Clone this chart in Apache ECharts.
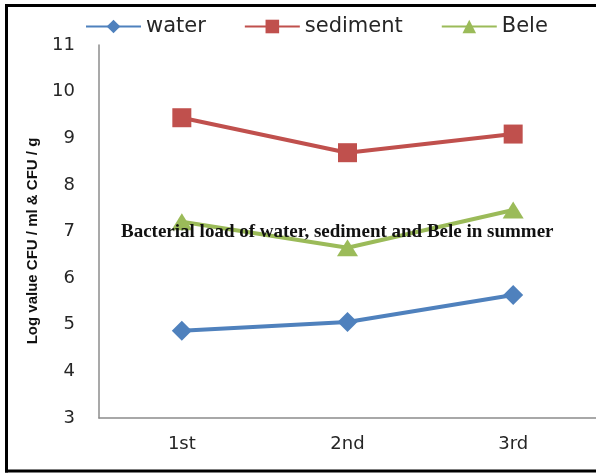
<!DOCTYPE html>
<html>
<head>
<meta charset="utf-8">
<script src="https://cdn.jsdelivr.net/npm/echarts@6/dist/echarts.min.js"></script>
<style>
  html, body { margin: 0; padding: 0; background: #fff; overflow: hidden; }
  #chart { width: 596px; height: 475px; }
</style>
</head>
<body>
<div id="chart"></div>
<script>
const categories = ['1st', '2nd', '3rd'];
const waterValues = [4.87, 5.06, 5.64];
const sedimentValues = [9.44, 8.69, 9.09];
const beleValues = [7.21, 6.65, 7.46];
const seriesNames = ['water', 'sediment', 'Bele'];
const yTicks = { min: 3, max: 11, interval: 1 };
const titleText = 'Bacterial load of water, sediment and Bele in summer';
const yAxisName = 'Log value CFU / ml & CFU / g';

const chart = echarts.init(document.getElementById('chart'), null, { renderer: 'canvas' });

const option = {
  animation: false,
  backgroundColor: '#ffffff',
  title: {
    text: titleText,
    left: 121,
    top: 223,
    padding: 0,
    textStyle: {
      fontFamily: 'Liberation Serif',
      fontWeight: 'bold',
      fontSize: 19,
      color: '#111111'
    }
  },
  legend: {
    left: 85,
    top: 16,
    itemWidth: 55,
    itemHeight: 17,
    itemGap: 38,
    padding: 0,
    data: seriesNames,
    textStyle: {
      fontFamily: 'DejaVu Sans',
      fontSize: 21,
      color: '#262626'
    }
  },
  grid: {
    left: 99,
    top: 45,
    width: 506,
    height: 373,
    containLabel: false
  },
  xAxis: {
    type: 'category',
    data: categories,
    boundaryGap: true,
    axisLine: { show: true, lineStyle: { color: '#8c8c8c', width: 1.5 } },
    axisTick: { show: false },
    axisLabel: {
      margin: 17,
      fontFamily: 'DejaVu Sans',
      fontSize: 18,
      color: '#262626'
    },
    splitLine: { show: false }
  },
  yAxis: {
    type: 'value',
    min: yTicks.min,
    max: yTicks.max,
    interval: yTicks.interval,
    axisLine: { show: true, lineStyle: { color: '#8c8c8c', width: 1.5 } },
    axisTick: { show: false },
    axisLabel: {
      margin: 24,
      fontFamily: 'DejaVu Sans',
      fontSize: 18,
      color: '#262626'
    },
    splitLine: { show: false }
  },
  series: [
    {
      name: seriesNames[0],
      type: 'line',
      data: waterValues,
      symbol: 'diamond',
      symbolSize: 20,
      lineStyle: { color: '#4F81BD', width: 4 },
      itemStyle: { color: '#4F81BD' }
    },
    {
      name: seriesNames[1],
      type: 'line',
      data: sedimentValues,
      symbol: 'rect',
      symbolSize: 19,
      lineStyle: { color: '#C0504D', width: 4 },
      itemStyle: { color: '#C0504D' }
    },
    {
      name: seriesNames[2],
      type: 'line',
      data: beleValues,
      symbol: 'triangle',
      symbolSize: [21, 17],
      lineStyle: { color: '#9BBB59', width: 4 },
      itemStyle: { color: '#9BBB59' }
    }
  ],
  graphic: [
    {
      type: 'line',
      shape: { x1: 6.5, y1: 4, x2: 6.5, y2: 472.5 },
      style: { stroke: '#000000', lineWidth: 3 },
      z: 100
    },
    {
      type: 'line',
      shape: { x1: 5, y1: 5.5, x2: 700, y2: 5.5 },
      style: { stroke: '#000000', lineWidth: 3 },
      z: 100
    },
    {
      type: 'line',
      shape: { x1: 5, y1: 471, x2: 700, y2: 471 },
      style: { stroke: '#000000', lineWidth: 3 },
      z: 100
    },
    {
      type: 'text',
      x: 33,
      y: 241,
      rotation: Math.PI / 2,
      style: {
        text: yAxisName,
        fontFamily: 'Liberation Sans',
        fontWeight: 'bold',
        fontSize: 15,
        fill: '#111111',
        textAlign: 'center',
        textVerticalAlign: 'middle'
      },
      z: 100
    }
  ]
};

chart.setOption(option);
</script>
</body>
</html>
